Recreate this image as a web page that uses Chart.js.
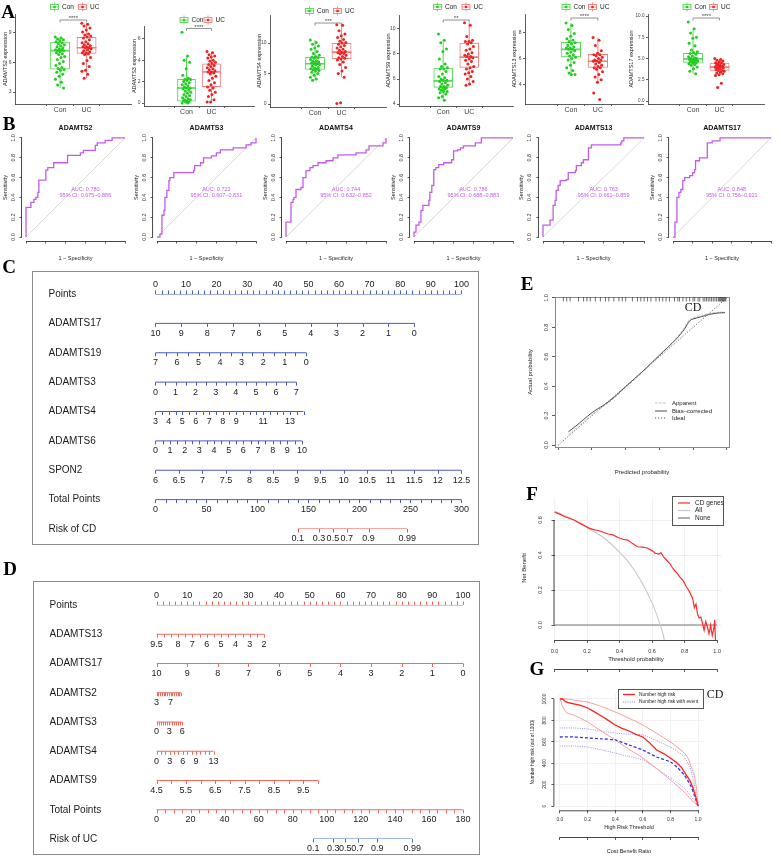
<!DOCTYPE html>
<html>
<head>
<meta charset="utf-8">
<title>ADAMTS figure</title>
<script src="https://cdn.jsdelivr.net/npm/chart.js@4.4.1/dist/chart.umd.min.js"></script>
<style>
  html, body { margin: 0; padding: 0; background: #fff; }
  #fig { position: relative; width: 781px; height: 857px; overflow: hidden; background: #fff; }
  #fig canvas { position: absolute; left: 0; top: 0; }
  .tag { position: absolute; transform: translate(-50%, -50%); font: bold 19px "Liberation Serif", "Times New Roman", serif; color: #000; line-height: 1; }
</style>
</head>
<body>
<div id="fig"></div>
<script>
// ---------- A: expression boxplots ----------
const boxGenes = ['ADAMTS2', 'ADAMTS3', 'ADAMTS4', 'ADAMTS9', 'ADAMTS13', 'ADAMTS17'];
const boxStars = ['****', '****', '***', '**', '****', '****'];
const groupNames = ['Con', 'UC'];
// [lower whisker, Q1, median, Q3, upper whisker]
const box2Con = [3.4, 5.3, 7.2, 8.1, 8.6], box2UC = [4.4, 6.9, 7.5, 8.6, 10.0];
const box3Con = [0.0, 0.15, 1.4, 2.25, 4.4], box3UC = [0.1, 1.5, 2.9, 3.7, 4.8];
const box4Con = [3.9, 5.6, 6.6, 7.7, 10.5], box4UC = [4.4, 7.4, 8.5, 10.0, 13.0];
const box9Con = [4.3, 5.3, 5.85, 6.9, 9.1], box9UC = [5.5, 6.9, 7.75, 8.9, 10.5];
const box13Con = [4.8, 6.1, 6.7, 7.26, 8.7], box13UC = [4.2, 5.3, 5.8, 6.35, 7.6];
const box17Con = [3.2, 4.5, 4.95, 5.65, 8.5], box17UC = [3.05, 3.55, 4.0, 4.5, 4.95];

const pts2Con = [8.6, 8.5, 8.4, 8.3, 8.2, 8.1, 8.0, 7.9, 7.8, 7.7, 7.6, 7.5, 7.4, 7.3, 7.3, 7.2, 7.2, 7.1, 7.0, 6.9, 6.8, 6.6, 6.5, 6.3, 6.1, 5.9, 5.7, 5.5, 5.4, 5.3, 5.2, 5.0, 4.8, 4.6, 4.3, 4.0, 3.7, 3.4];
const pts2UC = [10.0, 9.9, 9.7, 9.5, 9.3, 9.1, 8.9, 8.8, 8.7, 8.6, 8.5, 8.3, 8.1, 8.0, 7.9, 7.8, 7.7, 7.6, 7.6, 7.5, 7.5, 7.4, 7.3, 7.2, 7.1, 7.0, 7.0, 6.9, 6.8, 6.5, 6.2, 5.9, 5.6, 5.2, 5.1, 4.8, 4.4];
const pts3Con = [6.6, 4.4, 4.0, 3.8, 3.2, 2.6, 2.3, 2.2, 2.2, 2.1, 2.0, 1.9, 1.8, 1.7, 1.6, 1.5, 1.4, 1.4, 1.3, 1.2, 1.1, 1.0, 0.9, 0.8, 0.7, 0.6, 0.5, 0.4, 0.3, 0.3, 0.2, 0.2, 0.1, 0.1, 0.0, 0.0];
const pts3UC = [4.8, 4.7, 4.5, 4.4, 4.3, 4.2, 4.0, 3.9, 3.8, 3.7, 3.6, 3.5, 3.4, 3.3, 3.2, 3.1, 3.0, 2.9, 2.9, 2.8, 2.7, 2.5, 2.3, 2.1, 1.9, 1.7, 1.5, 1.4, 1.2, 1.0, 0.8, 0.6, 0.3, 0.1, 0.1];
const pts4Con = [10.5, 10.1, 9.8, 9.5, 9.2, 9.0, 8.6, 8.3, 8.0, 7.8, 7.7, 7.6, 7.5, 7.3, 7.1, 7.0, 6.9, 6.8, 6.7, 6.6, 6.6, 6.5, 6.4, 6.2, 6.0, 5.9, 5.8, 5.7, 5.6, 5.5, 5.4, 5.2, 5.0, 4.7, 4.4, 4.1, 3.9];
const pts4UC = [13.0, 12.9, 12.0, 11.5, 11.2, 10.9, 10.6, 10.3, 10.1, 10.0, 9.8, 9.6, 9.4, 9.2, 9.0, 8.8, 8.6, 8.5, 8.4, 8.3, 8.2, 8.0, 7.8, 7.6, 7.5, 7.4, 7.2, 6.9, 6.5, 6.0, 5.4, 5.0, 4.4, 0.2, 0.1];
const pts9Con = [9.6, 9.1, 8.9, 8.4, 8.2, 7.6, 7.2, 7.0, 6.9, 6.8, 6.8, 6.6, 6.4, 6.2, 6.1, 6.0, 5.9, 5.9, 5.8, 5.7, 5.6, 5.5, 5.4, 5.4, 5.3, 5.3, 5.2, 5.2, 5.1, 5.0, 5.0, 4.9, 4.8, 4.6, 4.5, 4.3];
const pts9UC = [10.5, 10.3, 9.4, 9.1, 9.0, 9.0, 8.9, 8.8, 8.6, 8.4, 8.3, 8.1, 8.0, 7.9, 7.8, 7.8, 7.7, 7.6, 7.5, 7.4, 7.2, 7.0, 6.9, 6.8, 6.6, 6.5, 6.4, 6.2, 6.0, 5.8, 5.6, 5.5];
const pts13Con = [8.7, 8.5, 8.2, 7.9, 7.7, 7.5, 7.4, 7.3, 7.2, 7.1, 7.0, 6.9, 6.8, 6.8, 6.7, 6.7, 6.6, 6.5, 6.4, 6.3, 6.2, 6.1, 6.0, 5.9, 5.7, 5.5, 5.3, 5.1, 4.9, 4.8, 4.8];
const pts13UC = [7.6, 7.4, 7.0, 6.6, 6.4, 6.3, 6.3, 6.2, 6.1, 6.0, 5.9, 5.9, 5.8, 5.8, 5.7, 5.6, 5.5, 5.4, 5.3, 5.3, 5.2, 5.0, 4.8, 4.6, 4.4, 4.2, 3.4, 2.9];
const pts17Con = [9.3, 8.5, 8.0, 7.5, 7.4, 6.8, 6.5, 6.0, 5.8, 5.7, 5.6, 5.5, 5.3, 5.2, 5.1, 5.0, 5.0, 4.9, 4.9, 4.8, 4.8, 4.7, 4.6, 4.6, 4.5, 4.5, 4.4, 4.3, 4.2, 4.0, 3.8, 3.5, 3.2];
const pts17UC = [5.0, 4.9, 4.8, 4.7, 4.6, 4.5, 4.5, 4.4, 4.3, 4.2, 4.2, 4.1, 4.1, 4.0, 4.0, 3.9, 3.9, 3.8, 3.7, 3.6, 3.6, 3.5, 3.4, 3.3, 3.2, 3.1, 3.0, 2.1, 1.6];

// ---------- B: ROC curves (1 - specificity, sensitivity) ----------
const rocGenes = ['ADAMTS2', 'ADAMTS3', 'ADAMTS4', 'ADAMTS9', 'ADAMTS13', 'ADAMTS17'];
const roc2Fpr = [0, 0, 0.05, 0.08, 0.10, 0.12, 0.13, 0.20, 0.22, 0.28, 0.42, 0.55, 0.58, 0.70, 0.72, 0.80, 0.87, 1.0];
const roc2Tpr = [0, 0.30, 0.35, 0.38, 0.40, 0.45, 0.575, 0.675, 0.70, 0.75, 0.825, 0.85, 0.875, 0.925, 0.95, 0.975, 1.0, 1.0];
const roc3Fpr = [0, 0.03, 0.05, 0.07, 0.08, 0.10, 0.12, 0.13, 0.17, 0.37, 0.38, 0.44, 0.47, 0.55, 0.60, 0.64, 0.77, 0.90, 0.95, 1.0];
const roc3Tpr = [0, 0.03, 0.22, 0.27, 0.40, 0.47, 0.57, 0.60, 0.65, 0.67, 0.72, 0.75, 0.80, 0.82, 0.85, 0.88, 0.90, 0.93, 0.95, 1.0];
const roc4Fpr = [0, 0, 0.05, 0.07, 0.08, 0.10, 0.15, 0.17, 0.20, 0.24, 0.27, 0.32, 0.40, 0.47, 0.52, 0.70, 0.80, 0.83, 0.97, 1.0];
const roc4Tpr = [0, 0.15, 0.35, 0.38, 0.40, 0.48, 0.50, 0.60, 0.67, 0.70, 0.72, 0.75, 0.77, 0.80, 0.83, 0.85, 0.88, 0.92, 0.95, 1.0];
const roc9Fpr = [0, 0, 0.02, 0.05, 0.07, 0.09, 0.15, 0.16, 0.18, 0.20, 0.22, 0.25, 0.30, 0.38, 0.40, 0.44, 0.47, 0.50, 0.62, 0.68, 1.0];
const roc9Tpr = [0, 0.05, 0.12, 0.15, 0.27, 0.32, 0.37, 0.45, 0.52, 0.68, 0.70, 0.73, 0.75, 0.78, 0.87, 0.88, 0.90, 0.92, 0.95, 1.0, 1.0];
const roc13Fpr = [0, 0, 0.07, 0.10, 0.12, 0.13, 0.15, 0.17, 0.23, 0.25, 0.32, 0.33, 0.38, 0.40, 0.45, 0.48, 0.77, 0.78, 0.80, 1.0];
const roc13Tpr = [0, 0.12, 0.17, 0.32, 0.37, 0.47, 0.52, 0.57, 0.58, 0.65, 0.67, 0.72, 0.75, 0.78, 0.90, 0.93, 0.95, 0.97, 1.0, 1.0];
const roc17Fpr = [0, 0.02, 0.04, 0.06, 0.08, 0.10, 0.12, 0.17, 0.20, 0.22, 0.23, 0.27, 0.35, 0.40, 0.48, 1.0];
const roc17Tpr = [0, 0.15, 0.40, 0.45, 0.48, 0.57, 0.60, 0.62, 0.65, 0.68, 0.77, 0.80, 0.95, 0.97, 1.0, 1.0];
const rocAuc = ['AUC: 0.780', 'AUC: 0.722', 'AUC: 0.744', 'AUC: 0.786', 'AUC: 0.763', 'AUC: 0.848'];
const rocCi = ['95% CI: 0.675\u20130.886', '95% CI: 0.607\u20130.831', '95% CI: 0.632\u20130.852', '95% CI: 0.688\u20130.883', '95% CI: 0.661\u20130.859', '95% CI: 0.756\u20130.921'];
const diagonal = [0, 1];

// ---------- C / D: nomograms ----------
const nomoCNames = ['Points', 'ADAMTS17', 'ADAMTS19', 'ADAMTS3', 'ADAMTS4', 'ADAMTS6', 'SPON2', 'Total Points', 'Risk of CD'];
const cPoints = {vals: [0, 100], pts: [0, 100], step: 2, labels: [0, 10, 20, 30, 40, 50, 60, 70, 80, 90, 100]};
const cADAMTS17 = {vals: [10, 0], pts: [0, 84.6], step: 1, labels: [10, 9, 8, 7, 6, 5, 4, 3, 2, 1, 0]};
const cADAMTS19 = {vals: [7, 0], pts: [0, 49.3], step: 0.5, labels: [7, 6, 5, 4, 3, 2, 1, 0]};
const cADAMTS3 = {vals: [0, 7], pts: [0, 46], step: 0.5, labels: [0, 1, 2, 3, 4, 5, 6, 7]};
const cADAMTS4 = {vals: [3, 14], pts: [0, 48.4], step: 0.5, labels: [3, 4, 5, 6, 7, 8, 9, 11, 13]};
const cADAMTS6 = {vals: [0, 10], pts: [0, 47.9], step: 0.5, labels: [0, 1, 2, 3, 4, 5, 6, 7, 8, 9, 10]};
const cSPON2 = {vals: [6, 12.5], pts: [0, 100], step: 0.5, labels: [6, 6.5, 7, 7.5, 8, 8.5, 9, 9.5, 10, 10.5, 11, 11.5, 12, 12.5]};
const cTotal = {vals: [0, 300], pts: [0, 100], step: 10, labels: [0, 50, 100, 150, 200, 250, 300]};
const cRisk = {pos: [139.6, 160.3, 174, 187.5, 209, 247], labels: ['0.1', '0.3', '0.5', '0.7', '0.9', '0.99']};

const nomoDNames = ['Points', 'ADAMTS13', 'ADAMTS17', 'ADAMTS2', 'ADAMTS3', 'ADAMTS4', 'ADAMTS9', 'Total Points', 'Risk of UC'];
const dPoints = {vals: [0, 100], pts: [0, 100], step: 2, labels: [0, 10, 20, 30, 40, 50, 60, 70, 80, 90, 100]};
const dADAMTS13 = {vals: [9.5, 2], pts: [0, 35.1], step: 0.5, labels: [9.5, 8, 7, 6, 5, 4, 3, 2]};
const dADAMTS17 = {vals: [10, 0], pts: [0, 100], step: 1, labels: [10, 9, 8, 7, 6, 5, 4, 3, 2, 1, 0]};
const dADAMTS2 = {vals: [3, 10], pts: [0, 8.0], step: 0.5, labels: [3, 7]};
const dADAMTS3 = {vals: [0, 6], pts: [0, 8.4], step: 0.5, labels: [0, 3, 6]};
const dADAMTS4 = {vals: [0, 13], pts: [0, 18.6], step: 1, labels: [0, 3, 6, 9, 13]};
const dADAMTS9 = {vals: [4.5, 10], pts: [0, 52.7], step: 0.5, labels: [4.5, 5.5, 6.5, 7.5, 8.5, 9.5]};
const dTotal = {vals: [0, 180], pts: [0, 100], step: 5, labels: [0, 20, 40, 60, 80, 100, 120, 140, 160, 180]};
const dRisk = {pos: [92.1, 103.8, 110.9, 118.1, 129.6, 150.2], labels: ['0.1', '0.3', '0.5', '0.7', '0.9', '0.99']};

// ---------- E: calibration ----------
const calX = [0.06, 0.1, 0.2, 0.3, 0.4, 0.5, 0.6, 0.7, 0.75, 0.78, 0.8, 0.85, 0.9, 0.95, 0.99];
const calBias = [0.09, 0.125, 0.22, 0.295, 0.397, 0.5, 0.61, 0.72, 0.79, 0.845, 0.857, 0.873, 0.889, 0.898, 0.9];
const calApparent = [0.07, 0.11, 0.205, 0.29, 0.39, 0.495, 0.61, 0.725, 0.8, 0.855, 0.865, 0.882, 0.895, 0.903, 0.905];
const calRug = [0.03, 0.05, 0.07, 0.12, 0.15, 0.17, 0.19, 0.22, 0.25, 0.28, 0.3, 0.33, 0.36, 0.38, 0.4, 0.44, 0.47, 0.49, 0.51, 0.53, 0.55, 0.58, 0.6, 0.62, 0.64, 0.66, 0.69, 0.71, 0.72, 0.74, 0.76, 0.78, 0.8, 0.81, 0.83, 0.84, 0.86, 0.87, 0.88, 0.89, 0.9, 0.91, 0.92, 0.93, 0.94, 0.95, 0.955, 0.96, 0.965, 0.97, 0.975, 0.98, 0.985, 0.99, 0.995];

// ---------- F: decision curve ----------
const dcaX = [0, 0.03, 0.06, 0.09, 0.12, 0.15, 0.18, 0.21, 0.24, 0.27, 0.30, 0.33, 0.36, 0.39, 0.42, 0.45, 0.48, 0.51, 0.54, 0.57, 0.60, 0.62, 0.64, 0.655, 0.67, 0.69, 0.71, 0.73, 0.75, 0.77, 0.79, 0.81, 0.83, 0.85, 0.86, 0.87, 0.88, 0.89, 0.90, 0.91, 0.92, 0.93, 0.94, 0.95, 0.96, 0.97, 0.98, 0.985, 0.99];
const dcaModel = [0.645, 0.635, 0.62, 0.61, 0.60, 0.585, 0.57, 0.555, 0.545, 0.54, 0.53, 0.52, 0.515, 0.50, 0.49, 0.485, 0.465, 0.447, 0.445, 0.44, 0.425, 0.41, 0.405, 0.412, 0.39, 0.37, 0.35, 0.32, 0.30, 0.275, 0.255, 0.22, 0.19, 0.15, 0.10, 0.12, 0.06, 0.04, 0.045, 0.01, -0.03, 0.02, -0.01, -0.05, 0.0, -0.06, -0.02, 0.03, -0.09];
const dcaAllX = [0, 0.1, 0.2, 0.3, 0.4, 0.45, 0.5, 0.55, 0.6, 0.63, 0.65, 0.67, 0.675];
const dcaAll = [0.65, 0.61, 0.556, 0.5, 0.417, 0.365, 0.30, 0.222, 0.125, 0.055, 0.0, -0.06, -0.086];
const dcaNoneX = [0, 1], dcaNone = [0, 0];
const ratioLabels = ['1:100', '1:4', '2:3', '3:2', '4:1', '100:1'];

// ---------- G: clinical impact ----------
const cicX = [0, 0.02, 0.04, 0.06, 0.08, 0.1, 0.15, 0.2, 0.25, 0.3, 0.35, 0.4, 0.45, 0.5, 0.55, 0.6, 0.65, 0.7, 0.75, 0.8, 0.85, 0.88, 0.9, 0.92, 0.94, 0.96, 0.98, 1.0];
const cicRisk = [1000, 1000, 975, 965, 960, 955, 940, 916, 880, 841, 800, 757, 725, 701, 670, 645, 590, 523, 490, 449, 400, 360, 318, 280, 240, 180, 100, 0];
const cicHiX = [0, 0.05, 0.1, 0.15, 0.2, 0.3, 0.4, 0.5, 0.6, 0.7, 0.8, 0.85, 0.9, 0.93, 0.95, 0.97, 0.99, 1.0];
const cicRiskHi = [1000, 1000, 990, 980, 972, 930, 878, 820, 757, 680, 598, 550, 495, 440, 364, 300, 150, 0];
const cicLoX = [0, 0.02, 0.05, 0.1, 0.2, 0.3, 0.4, 0.5, 0.6, 0.7, 0.8, 0.9, 0.95, 1.0];
const cicRiskLo = [1000, 930, 870, 850, 785, 700, 617, 530, 449, 350, 243, 131, 60, 0];
const cicEvX = [0, 0.1, 0.2, 0.3, 0.4, 0.5, 0.6, 0.7, 0.8, 0.85, 0.9, 0.95, 1.0];
const cicEvent = [645, 645, 636, 628, 617, 570, 523, 458, 411, 360, 290, 180, 0];
const cicEventHi = [729, 729, 720, 700, 682, 672, 664, 610, 551, 510, 458, 330, 0];
const cicEventLo = [561, 561, 551, 525, 495, 462, 430, 350, 262, 215, 168, 90, 0];

// ---------- layout (pixels) ----------
const W = 781, H = 857;
const SANS = '"Liberation Sans", Arial, sans-serif';
const SERIF = '"Liberation Serif", "Times New Roman", serif';
const conCol = '#22cc22', conBox = '#5ad85a', ucCol = '#ee2222', ucBox = '#f27f7f';
const rocCol = '#c25ce8';
const aLayout = [
  {ax: 15, unit: 53, top: 14, bottom: 104, ymin: 1.78, ymax: 10.93, yt: [3, 6, 9], dec: 0, legY: 7, keys: [54.5, 82.5], brY: 20, ylab: 5},
  {ax: 144, unit: 50, top: 26, bottom: 106, ymin: -0.28, ymax: 7.19, yt: [0, 2, 4, 6], dec: 0, legY: 20, keys: [184, 208], brY: 28.5, ylab: 134},
  {ax: 270, unit: 53, top: 15, bottom: 107, ymin: -0.49, ymax: 14.6, yt: [0, 5, 10], dec: 0, legY: 11, keys: [309.5, 337.5], brY: 23, ylab: 259},
  {ax: 399, unit: 52, top: 15, bottom: 106, ymin: 3.84, ymax: 11.12, yt: [4, 6, 8, 10], dec: 0, legY: 7, keys: [437.5, 466], brY: 20, ylab: 388},
  {ax: 525, unit: 54, top: 14, bottom: 104, ymin: 2.56, ymax: 9.38, yt: [4, 6, 8], dec: 0, legY: 7, keys: [566, 592.5], brY: 18, ylab: 514},
  {ax: 648, unit: 53, top: 14, bottom: 104, ymin: -0.35, ymax: 10.24, yt: [0, 2.5, 5, 7.5, 10], dec: 1, legY: 7, keys: [687, 713.5], brY: 18, ylab: 631}
];
const rocX0 = [26, 157, 286, 414, 543, 673], rocX1 = [125, 256, 386, 513, 644, 771];

Chart.defaults.font.family = SANS;
Chart.defaults.color = '#222';
Chart.defaults.animation = false;
Chart.defaults.responsive = false;
Chart.defaults.plugins.legend.display = false;
Chart.defaults.plugins.tooltip.enabled = false;

const fig = document.getElementById('fig');
function mkCtx() {
  const c = document.createElement('canvas');
  c.width = W; c.height = H;
  fig.appendChild(c);
  return c.getContext('2d');
}
const pad = a => ({left: a.left, top: a.top, right: W - a.right, bottom: H - a.bottom - (a.below || 0)});
const pairs = (xs, ys) => xs.map((x, i) => ({x, y: ys[i]}));
const jitter = i => (((i * 0.6180339) % 1) - 0.5) * 0.36;

function rScale(o) {
  const left = o.position === 'left';
  return {
    type: 'linear', min: o.min, max: o.max, position: o.position, weight: o.weight || 0,
    afterBuildTicks: s => { s.ticks = o.ticks.map(v => ({value: v})); },
    afterFit: s => { if (left) s.width = 0; else s.height = o.h || 0; },
    ticks: {display: o.labels !== false, callback: o.cb || (v => v.toFixed(o.dec === undefined ? 1 : o.dec)),
            font: {size: o.size || 5.5}, color: '#333', padding: o.pad === undefined ? 3 : o.pad, autoSkip: false, maxRotation: 0},
    grid: {display: true, drawOnChartArea: !!o.grid, color: o.grid || '#eee', tickColor: '#333', tickLength: o.tl || 3, lineWidth: 0.8},
    border: {display: false}
  };
}

function drawDeco(chart, d) {
  const ctx = chart.ctx, sc = chart.scales;
  const X = (v, data) => data ? sc.x.getPixelForValue(v) : v;
  const Y = (v, data) => data ? sc.y.getPixelForValue(v) : v;
  ctx.save();
  if (d.frame) {
    const a = chart.chartArea;
    ctx.strokeStyle = d.frame; ctx.lineWidth = 1;
    ctx.strokeRect(Math.round(a.left) + 0.5, Math.round(a.top) + 0.5, Math.round(a.right - a.left), Math.round(a.bottom - a.top));
  }
  (d.axes || []).forEach(id => {
    const s = sc[id], t = s.ticks;
    const p0 = s.getPixelForValue(t[0].value), p1 = s.getPixelForValue(t[t.length - 1].value);
    ctx.strokeStyle = '#333'; ctx.lineWidth = 0.9; ctx.setLineDash([]);
    ctx.beginPath();
    if (s.isHorizontal()) { ctx.moveTo(p0, s.top + 0.5); ctx.lineTo(p1, s.top + 0.5); }
    else { ctx.moveTo(s.right - 0.5, p0); ctx.lineTo(s.right - 0.5, p1); }
    ctx.stroke();
  });
  if (d.rotY) {
    const s = sc.y;
    ctx.fillStyle = '#333'; ctx.font = d.rotY.size + 'px ' + SANS; ctx.textAlign = 'center'; ctx.textBaseline = 'middle';
    s.ticks.forEach(t => {
      ctx.save(); ctx.translate(s.right - d.rotY.offset, s.getPixelForValue(t.value)); ctx.rotate(-Math.PI / 2);
      ctx.fillText(t.value.toFixed(d.rotY.dec), 0, 0); ctx.restore();
    });
  }
  (d.tickText || []).forEach(tt => {
    const s = sc[tt.id];
    ctx.fillStyle = '#444'; ctx.font = tt.size + 'px ' + SANS; ctx.textBaseline = 'middle';
    s.ticks.forEach((t, i) => {
      const p = s.getPixelForValue(t.value);
      const txt = tt.labels ? tt.labels[i] : t.value.toFixed(tt.dec);
      if (s.isHorizontal()) { ctx.textAlign = 'center'; ctx.fillText(txt, p, s.top + tt.off); }
      else { ctx.textAlign = 'right'; ctx.fillText(txt, s.right - tt.off, p); }
    });
  });
  if (d.rug) {
    const a = chart.chartArea;
    ctx.strokeStyle = '#333'; ctx.lineWidth = 0.7;
    d.rug.forEach(v => { const x = sc.x.getPixelForValue(v); ctx.beginPath(); ctx.moveTo(x, a.top); ctx.lineTo(x, a.top + 4.5); ctx.stroke(); });
  }
  (d.rects || []).forEach(r => {
    if (r.fill) { ctx.fillStyle = r.fill; ctx.fillRect(r.box[0], r.box[1], r.box[2], r.box[3]); }
    ctx.strokeStyle = r.stroke; ctx.lineWidth = 1; ctx.strokeRect(r.box[0], r.box[1], r.box[2], r.box[3]);
  });
  (d.lines || []).forEach(l => {
    ctx.strokeStyle = l.color; ctx.lineWidth = l.width || 1; ctx.setLineDash(l.dash || []);
    ctx.beginPath();
    for (let i = 0; i < l.pts.length; i += 2) {
      const x = X(l.pts[i], l.xd), y = l.pts[i + 1];
      if (i === 0) ctx.moveTo(x, y); else ctx.lineTo(x, y);
    }
    ctx.stroke();
  });
  ctx.setLineDash([]);
  (d.keys || []).forEach(([cx, cy, stroke, fill]) => {
    ctx.strokeStyle = stroke; ctx.lineWidth = 0.9;
    ctx.beginPath(); ctx.moveTo(cx, cy - 4.5); ctx.lineTo(cx, cy + 4.5); ctx.stroke();
    ctx.fillStyle = '#fff'; ctx.fillRect(cx - 4, cy - 2.5, 8, 5); ctx.strokeRect(cx - 4, cy - 2.5, 8, 5);
    ctx.beginPath(); ctx.moveTo(cx - 4, cy); ctx.lineTo(cx + 4, cy); ctx.stroke();
    ctx.fillStyle = fill; ctx.beginPath(); ctx.arc(cx, cy, 1.3, 0, Math.PI * 2); ctx.fill();
  });
  (d.texts || []).forEach(t => {
    ctx.save();
    ctx.translate(X(t.x, t.data || t.xd), Y(t.y, t.data));
    if (t.rot) ctx.rotate(t.rot * Math.PI / 180);
    ctx.font = (t.bold ? 'bold ' : '') + (t.size || 7) + 'px ' + (t.family || SANS);
    ctx.fillStyle = t.color || '#222'; ctx.textAlign = t.align || 'center'; ctx.textBaseline = 'middle';
    ctx.fillText(t.t, 0, 0);
    ctx.restore();
  });
  ctx.restore();
}
const decoPlugin = d => ({id: 'deco', afterDraw(chart) { drawDeco(chart, d); }});

// ---------- A ----------
const boxStats = [[box2Con, box2UC], [box3Con, box3UC], [box4Con, box4UC], [box9Con, box9UC], [box13Con, box13UC], [box17Con, box17UC]];
const boxPts = [[pts2Con, pts2UC], [pts3Con, pts3UC], [pts4Con, pts4UC], [pts9Con, pts9UC], [pts13Con, pts13UC], [pts17Con, pts17UC]];

boxGenes.forEach((gene, k) => {
  const L = aLayout[k], st = boxStats[k];
  const area = {left: L.ax, right: L.ax + 2.2 * L.unit, top: L.top, bottom: L.bottom};
  const dotCols = [conCol, ucCol], lineCols = [conBox, ucBox];
  const datasets = [];
  [0, 1].forEach(g => {
    const x0 = g + 1, s = st[g];
    datasets.push({type: 'scatter', data: boxPts[k][g].map((v, i) => ({x: x0 + jitter(i), y: v})),
      pointRadius: 1.5, pointBackgroundColor: dotCols[g], pointBorderWidth: 0, order: 0});
    datasets.push({type: 'line', data: [{x: x0, y: s[0]}, {x: x0, y: s[1]}, {x: x0, y: null}, {x: x0, y: s[3]}, {x: x0, y: s[4]}],
      borderColor: lineCols[g], borderWidth: 1, pointRadius: 0, spanGaps: false, order: 1});
    datasets.push({type: 'line', data: [{x: x0 - 0.375, y: s[2]}, {x: x0 + 0.375, y: s[2]}],
      borderColor: lineCols[g], borderWidth: 1.7, pointRadius: 0, order: 1});
  });
  datasets.push({type: 'bar', data: st.map((s, g) => ({x: g + 1, y: [s[1], s[3]]})),
    backgroundColor: 'rgba(255,255,255,0)', borderColor: lineCols, borderWidth: 1, borderSkipped: false,
    categoryPercentage: 0.75, barPercentage: 1, grouped: false, order: 2});
  const axisStyle = {grid: {display: true, drawOnChartArea: false, tickLength: 2, tickColor: '#333', lineWidth: 0.8},
                     border: {display: true, color: '#333', width: 0.8}, ticks: {display: false}};
  new Chart(mkCtx(), {
    type: 'scatter',
    data: {datasets},
    options: {
      layout: {padding: pad(area), autoPadding: false},
      scales: {
        x: Object.assign({type: 'linear', min: 0.4, max: 2.6,
          afterBuildTicks: s => { s.ticks = [{value: 1}, {value: 2}]; },
          afterFit: s => { s.height = 0; }}, axisStyle),
        y: Object.assign({type: 'linear', min: L.ymin, max: L.ymax,
          afterBuildTicks: s => { s.ticks = L.yt.map(v => ({value: v})); },
          afterFit: s => { s.width = 0; }}, axisStyle)
      }
    },
    plugins: [decoPlugin({
      tickText: [{id: 'x', labels: groupNames, off: 6, size: 7}, {id: 'y', dec: L.dec, off: 3.5, size: L.dec ? 4.6 : 5}],
      texts: [
        {t: gene + ' expression', x: L.ylab, y: (L.top + L.bottom) / 2, size: 5.5, rot: -90},
        {t: groupNames[0], x: L.keys[0] + 7.5, y: L.legY, size: 6.5, align: 'left'},
        {t: groupNames[1], x: L.keys[1] + 7.5, y: L.legY, size: 6.5, align: 'left'},
        {t: boxStars[k], x: 1.5, xd: true, y: L.brY - 1.6, size: 6, color: '#444'}
      ],
      lines: [{pts: [1, L.brY + 2.5, 1, L.brY, 2, L.brY, 2, L.brY + 2.5], xd: true, color: '#777', width: 0.8}],
      keys: [[L.keys[0], L.legY, conBox, conCol], [L.keys[1], L.legY, ucBox, ucCol]]
    })]
  });
});

// ---------- B ----------
const rocFpr = [roc2Fpr, roc3Fpr, roc4Fpr, roc9Fpr, roc13Fpr, roc17Fpr];
const rocTpr = [roc2Tpr, roc3Tpr, roc4Tpr, roc9Tpr, roc13Tpr, roc17Tpr];
const tick01 = [0, 0.2, 0.4, 0.6, 0.8, 1.0];
rocGenes.forEach((gene, k) => {
  const u = rocX1[k] - rocX0[k];
  const area = {left: rocX0[k] - 0.04 * u, right: rocX1[k] + 0.04 * u, top: 134, bottom: 241};
  const cx = (rocX0[k] + rocX1[k]) / 2;
  new Chart(mkCtx(), {
    type: 'scatter',
    data: {datasets: [
      {type: 'line', data: pairs(rocFpr[k], rocTpr[k]), stepped: 'before', borderColor: rocCol, borderWidth: 1.3, pointRadius: 0, order: 0},
      {type: 'line', data: pairs(diagonal, diagonal), borderColor: '#cfcfcf', borderWidth: 0.8, pointRadius: 0, order: 1}
    ]},
    options: {
      layout: {padding: pad(area), autoPadding: false},
      scales: {
        x: rScale({min: -0.04, max: 1.04, ticks: tick01, position: 'bottom', pad: 3, tl: 2.5}),
        y: rScale({min: -0.04, max: 1.04, ticks: tick01, position: 'left', labels: false, tl: 2.5})
      }
    },
    plugins: [decoPlugin({
      axes: ['x', 'y'],
      rotY: {offset: 9, size: 5.5, dec: 1},
      texts: [
        {t: gene, x: cx, y: 128, size: 7, bold: true, color: '#111'},
        {t: 'Sensitivity', x: area.left - 17, y: 187.5, size: 5.5, rot: -90},
        {t: '1 \u2212 Specificity', x: cx, y: 258, size: 5.5},
        {t: rocAuc[k], x: 0.6, y: 0.48, data: true, size: 5.5, color: rocCol},
        {t: rocCi[k], x: 0.6, y: 0.42, data: true, size: 5.5, color: rocCol}
      ]
    })]
  });
});

// ---------- C / D ----------
function linRow(d, color) {
  const span = d.vals[1] - d.vals[0];
  const map = v => d.pts[0] + (v - d.vals[0]) / span * (d.pts[1] - d.pts[0]);
  const n = Math.round(Math.abs(span) / d.step), dir = Math.sign(span);
  const ticks = [];
  for (let k = 0; k <= n; k++) ticks.push(map(d.vals[0] + dir * k * d.step));
  return {p0: d.pts[0], p1: d.pts[1], ticks, labels: d.labels.map(v => ({p: map(v), t: String(v)})), color};
}
function riskRow(d, totalMax, color) {
  const ps = d.pos.map(tp => tp * 100 / totalMax);
  return {p0: ps[0], p1: ps[ps.length - 1], ticks: ps, labels: d.labels.map((t, i) => ({p: ps[i], t})), color};
}
function drawNomo(chart, rows) {
  const ctx = chart.ctx, xs = chart.scales.x, ys = chart.scales.y;
  ctx.save();
  ctx.font = '9px ' + SANS; ctx.textAlign = 'center'; ctx.textBaseline = 'middle'; ctx.lineWidth = 1;
  rows.forEach((r, i) => {
    const y = ys.getPixelForValue(i), up = i === 0;
    ctx.strokeStyle = r.color;
    ctx.beginPath();
    r.ticks.forEach(p => { const x = Math.round(xs.getPixelForValue(p)) + 0.5; ctx.moveTo(x, y); ctx.lineTo(x, up ? y - 3.5 : y + 3.5); });
    ctx.stroke();
    ctx.fillStyle = '#1a1a1a';
    r.labels.forEach(l => ctx.fillText(l.t, xs.getPixelForValue(l.p), up ? y - 9 : y + 10));
  });
  ctx.restore();
}
function nomogram(names, defs, area, labelX, frameBox, totalMax, mainCol, riskCol) {
  const rows = defs.map((d, i) => i === defs.length - 1 ? riskRow(d, totalMax, riskCol) : linRow(d, mainCol));
  new Chart(mkCtx(), {
    type: 'scatter',
    data: {datasets: rows.map((r, i) => ({type: 'line', data: [{x: r.p0, y: i}, {x: r.p1, y: i}], borderColor: r.color, borderWidth: 1, pointRadius: 0}))},
    options: {
      layout: {padding: {left: labelX, top: area.top, right: W - area.right, bottom: H - area.bottom}, autoPadding: false},
      scales: {
        x: {type: 'linear', min: 0, max: 100, display: false},
        y: {type: 'linear', min: 0, max: names.length - 1, reverse: true,
            afterBuildTicks: s => { s.ticks = names.map((n, i) => ({value: i})); },
            afterFit: s => { s.width = area.left - labelX; },
            ticks: {callback: v => names[v], crossAlign: 'far', font: {size: 10}, color: '#1a1a1a', autoSkip: false},
            grid: {display: false}, border: {display: false}}
      }
    },
    plugins: [{id: 'nomo', afterDatasetsDraw(chart) { drawNomo(chart, rows); }},
              decoPlugin({rects: [{box: frameBox, stroke: '#8c8c8c'}]})]
  });
}
nomogram(nomoCNames, [cPoints, cADAMTS17, cADAMTS19, cADAMTS3, cADAMTS4, cADAMTS6, cSPON2, cTotal, cRisk],
  {left: 155.4, right: 461.4, top: 294, bottom: 529}, 48.5, [32.5, 271.5, 446, 273], 300, '#4a5bbf', '#f04848');
nomogram(nomoDNames, [dPoints, dADAMTS13, dADAMTS17, dADAMTS2, dADAMTS3, dADAMTS4, dADAMTS9, dTotal, dRisk],
  {left: 156.5, right: 463, top: 605, bottom: 839}, 49.5, [33.5, 581.5, 446, 273], 180, '#f26a5e', '#3f6fc8');

// ---------- E ----------
new Chart(mkCtx(), {
  type: 'scatter',
  data: {datasets: [
    {type: 'line', data: pairs(calX, calBias), borderColor: '#4d4d4d', borderWidth: 1, tension: 0.3, pointRadius: 0, order: 0},
    {type: 'line', data: pairs(calX, calApparent), borderColor: '#bdbdbd', borderWidth: 1, borderDash: [2.5, 1.5], tension: 0.3, pointRadius: 0, order: 1},
    {type: 'line', data: pairs(diagonal, diagonal), borderColor: '#555', borderWidth: 0.9, borderDash: [1.2, 1.8], pointRadius: 0, order: 2}
  ]},
  options: {
    layout: {padding: pad({left: 555, right: 729, top: 297, bottom: 447}), autoPadding: false},
    scales: {
      x: rScale({min: -0.0196, max: 1.0137, ticks: tick01, position: 'bottom', pad: 4.5}),
      y: rScale({min: -0.0136, max: 1.0068, ticks: tick01, position: 'left', labels: false})
    }
  },
  plugins: [decoPlugin({
    frame: '#8a8a8a', rotY: {offset: 9, size: 5.5, dec: 1}, rug: calRug,
    lines: [
      {pts: [655, 403, 667, 403], color: '#bdbdbd', dash: [2.5, 1.5]},
      {pts: [655, 411, 667, 411], color: '#4d4d4d'},
      {pts: [655, 418, 667, 418], color: '#555', dash: [1.2, 1.8]}
    ],
    texts: [
      {t: 'Actual probability', x: 530, y: 372, rot: -90, size: 6},
      {t: 'Predicted probability', x: 642, y: 472, size: 6},
      {t: 'Apparent', x: 672, y: 403, size: 6, align: 'left'},
      {t: 'Bias\u2013corrected', x: 672, y: 411, size: 6, align: 'left'},
      {t: 'Ideal', x: 672, y: 418, size: 6, align: 'left'},
      {t: 'CD', x: 693, y: 308, size: 12, family: SERIF, color: '#111'}
    ]
  })]
});

// ---------- F ----------
new Chart(mkCtx(), {
  type: 'scatter',
  data: {datasets: [
    {type: 'line', data: pairs(dcaX, dcaModel), borderColor: '#ff2a2a', borderWidth: 1.2, pointRadius: 0, order: 0},
    {type: 'line', data: pairs(dcaAllX, dcaAll), borderColor: '#c8c8c8', borderWidth: 1.1, tension: 0.3, pointRadius: 0, order: 1},
    {type: 'line', data: pairs(dcaNoneX, dcaNone), borderColor: '#777', borderWidth: 1.2, pointRadius: 0, order: 2}
  ]},
  options: {
    layout: {padding: pad({left: 554.5, right: 722, top: 499, bottom: 640, below: 29}), autoPadding: false},
    scales: {
      x: rScale({min: 0, max: 1.03, ticks: tick01, position: 'bottom', pad: 4.7, h: 29, grid: '#ececec'}),
      x2: rScale({min: 0, max: 1.03, ticks: tick01, position: 'bottom', weight: 1, pad: 5.7, cb: (v, i) => ratioLabels[i]}),
      y: rScale({min: -0.0857, max: 0.72, ticks: [0, 0.2, 0.4, 0.6], position: 'left', labels: false, grid: '#ececec'})
    }
  },
  plugins: [decoPlugin({
    axes: ['x', 'x2', 'y'], rotY: {offset: 14, size: 5.5, dec: 1},
    rects: [{box: [672.5, 496.5, 51, 29], stroke: '#555', fill: '#fff'}],
    lines: [
      {pts: [678, 503, 690, 503], color: '#ff2a2a', width: 1.2},
      {pts: [678, 510.5, 690, 510.5], color: '#c8c8c8', width: 1.2},
      {pts: [678, 518, 690, 518], color: '#777', width: 1.2}
    ],
    texts: [
      {t: 'Net Benefit', x: 524, y: 568, rot: -90, size: 6},
      {t: 'Threshold probability', x: 636, y: 659, size: 6},
      {t: 'CD genes', x: 695, y: 503, size: 6.5, align: 'left'},
      {t: 'All', x: 695, y: 510.5, size: 6.5, align: 'left'},
      {t: 'None', x: 695, y: 518, size: 6.5, align: 'left'}
    ]
  })]
});

// ---------- G ----------
new Chart(mkCtx(), {
  type: 'scatter',
  data: {datasets: [
    {type: 'line', data: pairs(cicX, cicRisk), borderColor: '#ff1f1f', borderWidth: 1.3, pointRadius: 0, order: 0},
    {type: 'line', data: pairs(cicEvX, cicEvent), borderColor: '#3535e6', borderWidth: 1.3, borderDash: [3, 2], tension: 0.2, pointRadius: 0, order: 1},
    {type: 'line', data: pairs(cicHiX, cicRiskHi), borderColor: '#ff9090', borderWidth: 0.9, tension: 0.2, pointRadius: 0, order: 2},
    {type: 'line', data: pairs(cicLoX, cicRiskLo), borderColor: '#ff9090', borderWidth: 0.9, tension: 0.2, pointRadius: 0, order: 2},
    {type: 'line', data: pairs(cicEvX, cicEventHi), borderColor: '#8c8cf2', borderWidth: 0.9, borderDash: [1, 1.2], tension: 0.2, pointRadius: 0, order: 3},
    {type: 'line', data: pairs(cicEvX, cicEventLo), borderColor: '#8c8cf2', borderWidth: 0.9, borderDash: [1, 1.2], tension: 0.2, pointRadius: 0, order: 3}
  ]},
  options: {
    layout: {padding: pad({left: 554.4, right: 703.6, top: 694.7, bottom: 810.3, below: 26.7}), autoPadding: false},
    scales: {
      x: rScale({min: -0.04, max: 1.04, ticks: tick01, position: 'bottom', pad: 3.7, h: 26.7, size: 5, grid: '#eeeeee'}),
      x2: rScale({min: -0.04, max: 1.04, ticks: tick01, position: 'bottom', weight: 1, pad: 1, size: 5, cb: (v, i) => ratioLabels[i]}),
      y: rScale({min: -40, max: 1040, ticks: [0, 200, 400, 600, 800, 1000], position: 'left', labels: false, grid: '#eeeeee'})
    }
  },
  plugins: [decoPlugin({
    axes: ['x', 'x2', 'y'], rotY: {offset: 10, size: 5, dec: 0},
    rects: [{box: [618.5, 689.5, 85, 19], stroke: '#555', fill: '#fff'}],
    lines: [
      {pts: [623, 694.5, 635, 694.5], color: '#ff1f1f', width: 1.3},
      {pts: [623, 702, 635, 702], color: '#7b7bf0', width: 1, dash: [1, 1.2]}
    ],
    texts: [
      {t: 'Number high risk (out of 1000)', x: 533, y: 752, rot: -90, size: 4.8},
      {t: 'High Risk Threshold', x: 629, y: 827, size: 5.5},
      {t: 'Cost:Benefit Ratio', x: 629, y: 851, size: 5.5},
      {t: 'Number high risk', x: 639, y: 694.5, size: 4.8, align: 'left'},
      {t: 'Number high risk with event', x: 639, y: 702, size: 4.8, align: 'left'},
      {t: 'CD', x: 715, y: 695, size: 12, family: SERIF, color: '#111'}
    ]
  })]
});

// ---------- panel letters ----------
[['A', 8, 11], ['B', 9, 123], ['C', 9, 266], ['D', 10, 568], ['E', 527, 283], ['F', 532, 493], ['G', 537, 668]].forEach(([t, x, y]) => {
  const d = document.createElement('div');
  d.className = 'tag'; d.textContent = t; d.style.left = x + 'px'; d.style.top = y + 'px';
  fig.appendChild(d);
});
</script>
</body>
</html>
